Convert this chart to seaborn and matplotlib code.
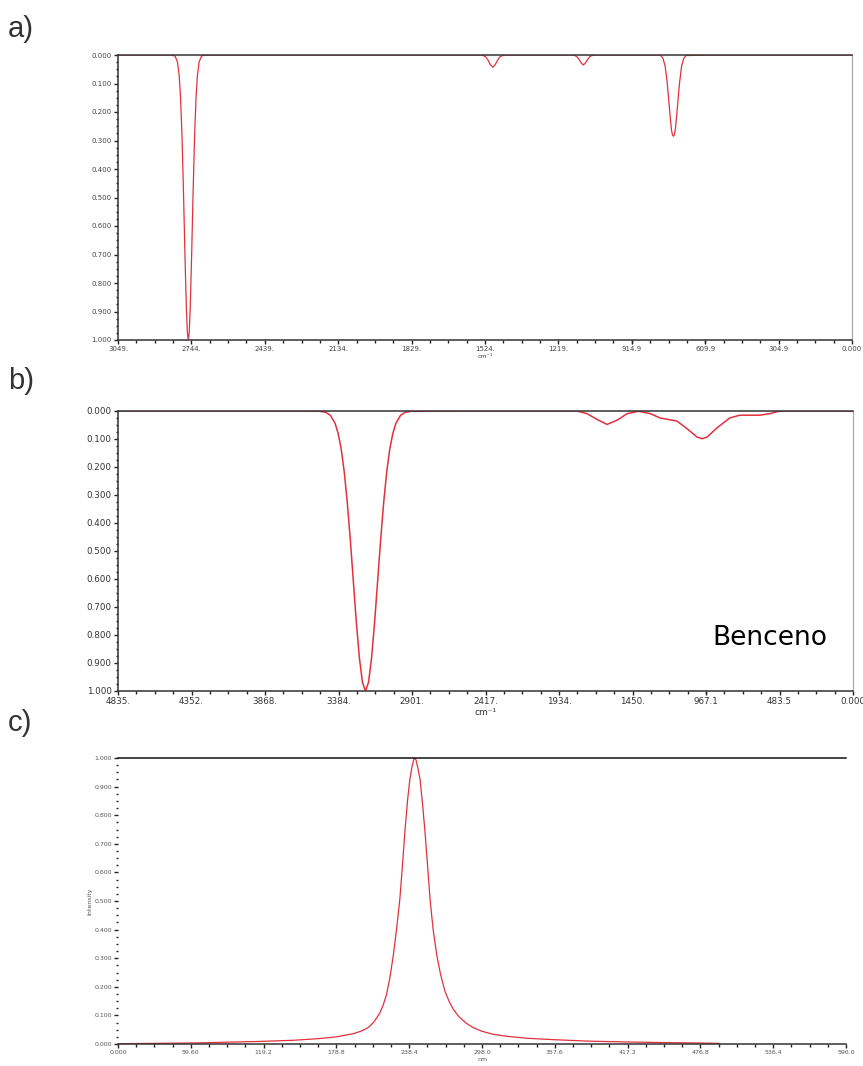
import matplotlib
matplotlib.use("Agg")
import matplotlib.pyplot as plt
import seaborn as sns
import pandas as pd
from matplotlib.ticker import FixedLocator, AutoMinorLocator

# ---------------- data ----------------
# a) IR spectrum, wavenumber (cm-1) vs absorbance
a_wavenumber = [3049, 2900, 2827, 2812, 2802, 2795, 2789, 2783, 2777, 2771, 2765, 2761, 2757,
                2753, 2749, 2743, 2737, 2731, 2725, 2719, 2712, 2702, 2687, 2600,
                1540, 1537, 1522, 1512, 1502, 1492, 1482, 1472, 1462, 1447, 1444, 1300,
                1160, 1157, 1144, 1134, 1125, 1116, 1107, 1098, 1088, 1075, 1072, 900,
                800, 795, 785, 776, 768, 762, 756, 750, 746, 742, 738, 734, 728, 722,
                716, 708, 699, 690, 600, 0]
a_absorb = [0, 0, 0.000, 0.004, 0.024, 0.071, 0.152, 0.289, 0.480, 0.698, 0.889, 0.971, 1.0,
            0.971, 0.889, 0.698, 0.480, 0.289, 0.152, 0.071, 0.024, 0.004, 0.000, 0,
            0, 0.0005, 0.006, 0.018, 0.034, 0.043, 0.034, 0.018, 0.006, 0.0005, 0, 0,
            0, 0.0004, 0.005, 0.015, 0.028, 0.035, 0.028, 0.015, 0.005, 0.0004, 0, 0,
            0, 0.002, 0.012, 0.040, 0.095, 0.150, 0.210, 0.262, 0.280, 0.285, 0.280, 0.262,
            0.210, 0.150, 0.095, 0.040, 0.012, 0.002, 0, 0]

# b) IR spectrum of benzene
b_wavenumber = [4835, 3600, 3507, 3467, 3437, 3407, 3387, 3367, 3347, 3327, 3307, 3287, 3267,
                3247, 3227, 3207, 3187, 3167, 3147, 3127, 3107, 3087, 3067, 3047, 3027, 3007,
                2977, 2947, 2907, 2600,
                1816, 1750, 1684, 1618, 1552, 1486, 1410, 1333, 1268, 1158, 1092, 1026, 993,
                960, 894, 811, 745, 613, 547, 489, 456, 0]
b_absorb = [0, 0, 0.001, 0.005, 0.016, 0.044, 0.080, 0.135, 0.216, 0.325, 0.458, 0.607, 0.755,
            0.882, 0.969, 1.0, 0.969, 0.882, 0.755, 0.607, 0.458, 0.325, 0.216, 0.135, 0.080,
            0.044, 0.016, 0.005, 0.001, 0,
            0, 0.0095, 0.030, 0.048, 0.033, 0.0095, 0.001, 0.0095, 0.025, 0.036, 0.063, 0.093,
            0.099, 0.093, 0.060, 0.025, 0.015, 0.015, 0.0095, 0.001, 0, 0]

# c) UV spectrum, wavelength (nm) vs intensity
c_wavelength = [0, 61.3, 116, 143.6, 165, 178.8, 185, 192.5, 199, 203, 206.1, 210, 214.3,
                217, 219.8, 222.5, 225.3, 228, 230.7, 232.8, 234.8, 237, 238.9, 240.5, 242,
                243.0, 244, 245.5, 247.3, 249.3, 251.4, 253.5, 255.5, 258, 261, 264, 267.6,
                271, 274.4, 279, 285.3, 291, 297.6, 307, 318, 335, 357.6, 385, 417.7, 446,
                476.4, 492.8]
c_intensity = [0.001, 0.0035, 0.009, 0.013, 0.019, 0.025, 0.030, 0.036, 0.045, 0.053, 0.062,
               0.080, 0.108, 0.135, 0.172, 0.230, 0.307, 0.400, 0.505, 0.620, 0.738, 0.850,
               0.924, 0.965, 0.993, 1.0, 0.993, 0.965, 0.924, 0.840, 0.738, 0.620, 0.505,
               0.400, 0.310, 0.245, 0.185, 0.150, 0.122, 0.096, 0.072, 0.057, 0.045, 0.034,
               0.027, 0.020, 0.015, 0.010, 0.007, 0.005, 0.0035, 0.002]

a_ticks = [3049, 2744.1, 2439.2, 2134.3, 1829.4, 1524.5, 1219.6, 914.9, 609.9, 304.9, 0]
a_ticklabels = ["3049.", "2744.", "2439.", "2134.", "1829.", "1524.", "1219.", "914.9",
                "609.9", "304.9", "0.000"]
b_ticks = [4835, 4351.5, 3868, 3384.5, 2901, 2417.5, 1934, 1450.5, 967.1, 483.5, 0]
b_ticklabels = ["4835.", "4352.", "3868.", "3384.", "2901.", "2417.", "1934.", "1450.",
                "967.1", "483.5", "0.000"]
c_ticks = [0, 59.6, 119.2, 178.8, 238.4, 298.0, 357.6, 417.2, 476.8, 536.4, 596.0]
c_ticklabels = ["0.000", "59.60", "119.2", "178.8", "238.4", "298.0", "357.6", "417.2",
                "476.8", "536.4", "596.0"]
y_ticks = [0.0, 0.1, 0.2, 0.3, 0.4, 0.5, 0.6, 0.7, 0.8, 0.9, 1.0]
y_ticklabels = ["0.000", "0.100", "0.200", "0.300", "0.400", "0.500", "0.600", "0.700",
                "0.800", "0.900", "1.000"]

# ---------------- figure ----------------
sns.set_style("ticks")
plt.rcParams["font.family"] = ["DejaVu Sans"]

W, H = 863, 1066
fig = plt.figure(figsize=(W / 100, H / 100), dpi=100)


def box(l, t, r, b):
    return [l / W, 1 - b / H, (r - l) / W, (b - t) / H]


axa = fig.add_axes(box(118, 55, 852, 340))
axb = fig.add_axes(box(118, 411, 853, 691))
axc = fig.add_axes(box(118, 758, 846, 1044))

RED = "#e2303d"

sns.lineplot(data=pd.DataFrame({"x": a_wavenumber, "y": a_absorb}), x="x", y="y",
             sort=False, estimator=None, ax=axa, color=RED, lw=0.9)
sns.lineplot(data=pd.DataFrame({"x": b_wavenumber, "y": b_absorb}), x="x", y="y",
             sort=False, estimator=None, ax=axb, color=RED, lw=1.1)
sns.lineplot(data=pd.DataFrame({"x": c_wavelength, "y": c_intensity}), x="x", y="y",
             sort=False, estimator=None, ax=axc, color=RED, lw=0.9)


def style(ax, xt, xtl, fs, col, xlim, ylim, xlabel, xlabfs, ylabel=None):
    ax.set_xlim(*xlim)
    ax.set_ylim(*ylim)
    ax.xaxis.set_major_locator(FixedLocator(xt))
    ax.set_xticklabels(xtl)
    ax.yaxis.set_major_locator(FixedLocator(y_ticks))
    ax.set_yticklabels(y_ticklabels)
    ax.xaxis.set_minor_locator(AutoMinorLocator(4))
    ax.yaxis.set_minor_locator(AutoMinorLocator(4))
    ax.tick_params(which="major", direction="out", length=3, width=1.0, colors="#222222",
                   labelsize=fs, labelcolor=col, pad=1.5)
    ax.tick_params(which="minor", direction="out", length=1.8, width=1.0, colors="#222222")
    ax.set_xlabel(xlabel, fontsize=xlabfs, color=col, labelpad=1)
    if ylabel:
        ax.set_ylabel(ylabel, fontsize=fs, color=col, labelpad=1)
    else:
        ax.set_ylabel("")
    for s in ["left", "bottom", "top"]:
        ax.spines[s].set_color("#333333")
        ax.spines[s].set_linewidth(1.1)
    ax.spines["right"].set_color("#aaaaaa")
    ax.spines["right"].set_linewidth(0.9)


style(axa, a_ticks, a_ticklabels, 5, "#444444", (3049, 0), (1.0, 0.0), "cm⁻¹", 4.5)
style(axb, b_ticks, b_ticklabels, 6.3, "#333333", (4835, 0), (1.0, 0.0), "cm⁻¹", 6.5)
style(axc, c_ticks, c_ticklabels, 4.5, "#555555", (0, 596), (0.0, 1.0), "nm", 4.5, "Intensity")
axc.spines["right"].set_visible(False)
axc.spines["left"].set_visible(False)
axc.spines["top"].set_color("#111111")

fig.text(712 / W, 1 - 645 / H, "Benceno", fontsize=19, color="black",
         family=["DejaVu Sans"], ha="left", va="baseline")

for lab, yc in [("a)", 29), ("b)", 381), ("c)", 723)]:
    fig.text(8 / W, 1 - yc / H, lab, fontsize=21, color="#333333",
             family=["Liberation Sans"], ha="left", va="center")

fig.savefig("out.png", dpi=100, facecolor="white")
